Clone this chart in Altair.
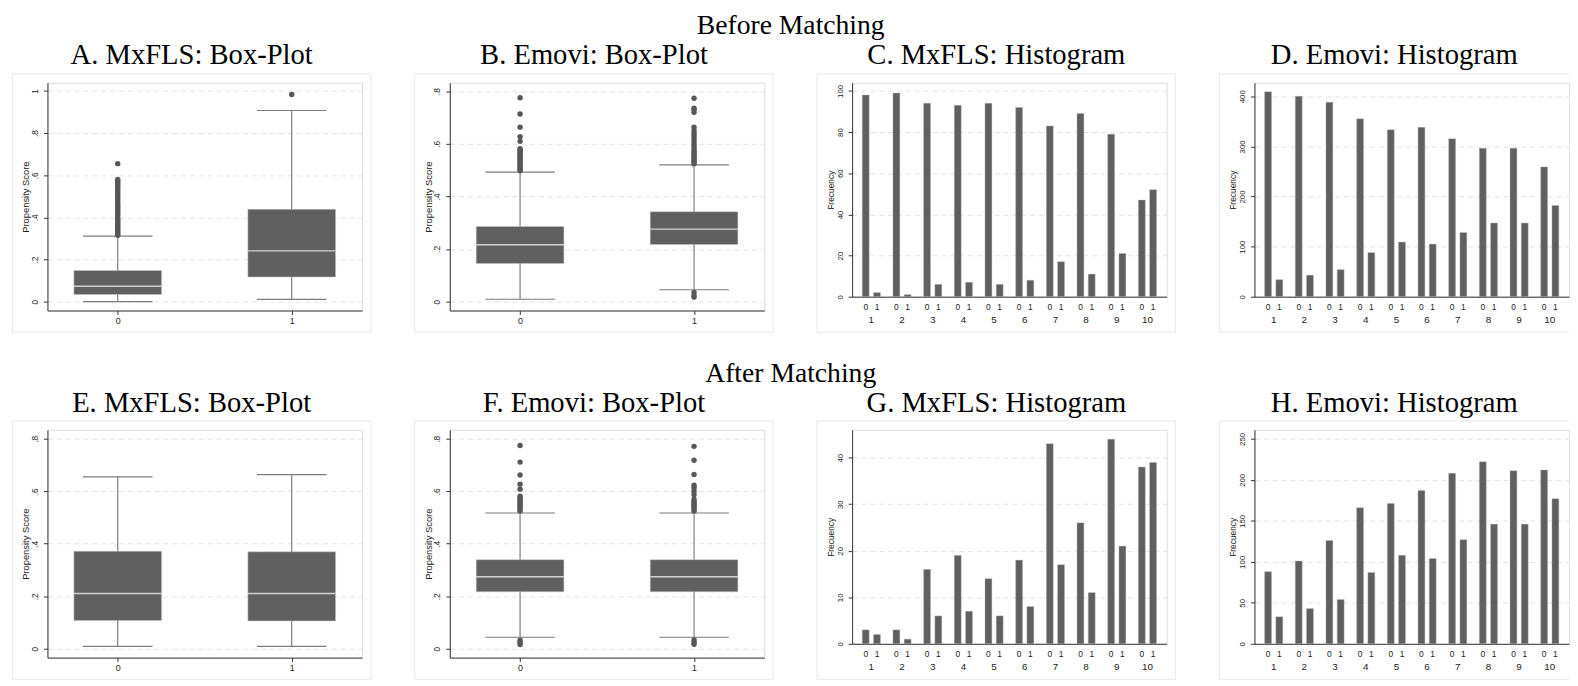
import altair as alt
import pandas as pd

# ---------------- data ----------------
groups = [0, 1]
deciles = list(range(1, 11))

# box-plot summaries: [whisker low, q1, median, q3, whisker high]
a_stats0 = [0.0, 0.034, 0.073, 0.148, 0.311]
a_stats1 = [0.011, 0.117, 0.241, 0.438, 0.907]
a_out0 = [0.315, 0.322, 0.33, 0.338, 0.345, 0.352, 0.36, 0.368, 0.375, 0.383, 0.39,
          0.398, 0.41, 0.42, 0.428, 0.436, 0.445, 0.452, 0.46, 0.47, 0.478, 0.49, 0.50,
          0.51, 0.52, 0.53, 0.54, 0.548, 0.556, 0.565, 0.572, 0.58, 0.655]
a_out1 = [0.983]

b_stats0 = [0.0087, 0.1446, 0.2156, 0.2854, 0.492]
b_stats1 = [0.0449, 0.2168, 0.2754, 0.3414, 0.5196]
b_out0 = [0.497, 0.503, 0.509, 0.515, 0.521, 0.527, 0.533, 0.539, 0.545, 0.551, 0.557,
          0.563, 0.569, 0.575, 0.581, 0.609, 0.627, 0.663, 0.713, 0.775]
b_out1 = [0.017, 0.022, 0.035, 0.524, 0.53, 0.536, 0.542, 0.548, 0.554, 0.56, 0.566,
          0.572, 0.58, 0.59, 0.60, 0.61, 0.62, 0.63, 0.64, 0.65, 0.663, 0.72, 0.73,
          0.735, 0.773]

e_stats0 = [0.0087, 0.107, 0.2106, 0.371, 0.655]
e_stats1 = [0.0087, 0.106, 0.2106, 0.369, 0.663]
e_out0 = []
e_out1 = []

f_stats0 = [0.0436, 0.2168, 0.274, 0.339, 0.517]
f_stats1 = [0.0436, 0.2168, 0.274, 0.339, 0.517]
f_out0 = [0.016, 0.024, 0.032, 0.525, 0.531, 0.537, 0.543, 0.549, 0.555, 0.561, 0.567,
          0.573, 0.581, 0.608, 0.627, 0.662, 0.711, 0.774]
f_out1 = [0.017, 0.024, 0.033, 0.525, 0.531, 0.537, 0.543, 0.549, 0.555, 0.561, 0.57,
          0.587, 0.60, 0.613, 0.623, 0.664, 0.718, 0.771]

# histogram counts by propensity-score decile
c_control = [98, 99, 94, 93, 94, 92, 83, 89, 79, 47]
c_treated = [2, 1, 6, 7, 6, 8, 17, 11, 21, 52]
d_control = [409, 400, 388, 355, 333, 338, 315, 296, 296, 259]
d_treated = [34, 43, 54, 88, 109, 105, 128, 147, 147, 182]
g_control = [3, 3, 16, 19, 14, 18, 43, 26, 44, 38]
g_treated = [2, 1, 6, 7, 6, 8, 17, 11, 21, 39]
h_control = [88, 101, 126, 166, 171, 187, 208, 222, 211, 212]
h_treated = [33, 43, 54, 87, 108, 104, 127, 146, 146, 177]

# ---------------- style ----------------
SERIF = "Liberation Serif"
SANS = "Liberation Sans"
W = 319
HB = 231
HH = 217
FR_TOP = -9
FR_BOTTOM = 253
FR_LEFT = -35.5
DARK = "#606060"
AXC = "#333333"
GRIDC = "#e3e3e3"
FRC = "#e8e8e8"


def panel_title(text):
    return alt.TitleParams(text=text, font=SERIF, fontSize=29, fontWeight="normal",
                           color="black", anchor="middle", frame="bounds", offset=3)


def one():
    return alt.Chart(pd.DataFrame({"f": [0]}))


def frame_layers(right_ext, draw_right):
    xr = W + right_ext
    lines = [
        one().mark_rule(color=FRC, strokeWidth=1).encode(
            x=alt.value(FR_LEFT), x2=alt.value(xr), y=alt.value(FR_TOP)),
        one().mark_rule(color=FRC, strokeWidth=1).encode(
            x=alt.value(FR_LEFT), x2=alt.value(xr), y=alt.value(FR_BOTTOM)),
        one().mark_rule(color=FRC, strokeWidth=1).encode(
            x=alt.value(FR_LEFT), y=alt.value(FR_TOP), y2=alt.value(FR_BOTTOM)),
    ]
    if draw_right:
        lines.append(one().mark_rule(color=FRC, strokeWidth=1).encode(
            x=alt.value(xr), y=alt.value(FR_TOP), y2=alt.value(FR_BOTTOM)))
    return lines


def box_panel(title, s0, s1, o0, o1, yticks, ydom, right_ext=9, draw_right=True):
    stats = [s0, s1]
    box_df = pd.DataFrame({
        "g": groups,
        "lo": [s[0] for s in stats],
        "q1": [s[1] for s in stats],
        "med": [s[2] for s in stats],
        "q3": [s[3] for s in stats],
        "hi": [s[4] for s in stats],
    })
    out_df = pd.DataFrame({"g": [0] * len(o0) + [1] * len(o1), "v": o0 + o1})
    xs = alt.Scale(domain=[-0.404, 1.404], nice=False, zero=False)
    ys = alt.Scale(domain=ydom, nice=False, zero=False)
    yaxis = alt.Axis(values=yticks,
                     labelExpr="datum.value == 0 ? '0' : (datum.value == 1 ? '1' : '.' + format(datum.value * 10, '.0f'))",
                     grid=True, gridDash=[5, 4], gridColor=GRIDC, gridWidth=1,
                     domainColor=AXC, tickColor=AXC, tickSize=4,
                     labelAngle=270, labelAlign="center", labelBaseline="bottom",
                     labelFont=SANS, labelFontSize=8.5, labelColor="#222", labelPadding=4,
                     titleFont=SANS, titleFontSize=9.5, titleFontWeight="normal",
                     titleColor="#222", titlePadding=0)
    xaxis = alt.Axis(values=[0, 1], format="d", grid=False, domainColor=AXC,
                     tickColor=AXC, tickSize=4, labelFont=SANS, labelFontSize=9,
                     labelColor="#222", labelPadding=2, labelAngle=0)
    YT = "Propensity Score"
    base = alt.Chart(box_df).transform_calculate(
        bx0="datum.g - 0.252", bx1="datum.g + 0.252",
        cx0="datum.g - 0.2", cx1="datum.g + 0.2")
    whisk = base.mark_rule(color="#7d7d7d", strokeWidth=1.2).encode(
        x=alt.X("g:Q", scale=xs, axis=xaxis, title=None),
        y=alt.Y("lo:Q", scale=ys, axis=yaxis, title=YT), y2="hi:Q")
    cap_lo = base.mark_rule(color="#7d7d7d", strokeWidth=1.2).encode(
        x=alt.X("cx0:Q", title=None), x2="cx1:Q", y=alt.Y("lo:Q", title=YT))
    cap_hi = base.mark_rule(color="#7d7d7d", strokeWidth=1.2).encode(
        x=alt.X("cx0:Q", title=None), x2="cx1:Q", y=alt.Y("hi:Q", title=YT))
    box = base.mark_rect(color=DARK, stroke="#c8c8c8", strokeWidth=0.5).encode(
        x=alt.X("bx0:Q", title=None), x2="bx1:Q",
        y=alt.Y("q1:Q", title=YT), y2="q3:Q")
    med = base.mark_rule(color="#d2d2d2", strokeWidth=1.5).encode(
        x=alt.X("bx0:Q", title=None), x2="bx1:Q", y=alt.Y("med:Q", title=YT))
    layers = frame_layers(right_ext, draw_right) + [whisk, cap_lo, cap_hi, box, med]
    if len(out_df):
        pts = alt.Chart(out_df).mark_circle(size=30, color="#575757", opacity=1).encode(
            x=alt.X("g:Q", title=None), y=alt.Y("v:Q", title=YT))
        layers.append(pts)
    return alt.layer(*layers).properties(width=W, height=HB, title=panel_title(title))


def hist_panel(title, ctrl, trt, yticks, ydom, right_ext=9, draw_right=True):
    df = pd.DataFrame({
        "decile": deciles + deciles,
        "treat": [0] * len(ctrl) + [1] * len(trt),
        "count": ctrl + trt,
    })
    xs = alt.Scale(paddingInner=0, paddingOuter=0.127)
    xo = alt.Scale(paddingInner=0.386, paddingOuter=0.557)
    ys = alt.Scale(domain=ydom, nice=False, zero=True)
    yaxis = alt.Axis(values=yticks, grid=True, gridDash=[5, 4], gridColor=GRIDC,
                     domainColor=AXC, tickColor=AXC, tickSize=4,
                     labelAngle=270, labelAlign="center", labelBaseline="bottom",
                     labelFont=SANS, labelFontSize=8, labelColor="#222", labelPadding=4,
                     titleFont=SANS, titleFontSize=8.5, titleFontWeight="normal",
                     titleColor="#222", titlePadding=1)
    xaxis = alt.Axis(ticks=False, tickSize=0, domainColor=AXC, labelFont=SANS,
                     labelFontSize=10, labelColor="#222", labelPadding=18, labelAngle=0)
    YT = "Frecuency"
    bars = alt.Chart(df).mark_bar(color=DARK, stroke="#b5b5b5", strokeWidth=0.4).encode(
        x=alt.X("decile:O", scale=xs, axis=xaxis, title=None),
        xOffset=alt.XOffset("treat:O", scale=xo),
        y=alt.Y("count:Q", scale=ys, axis=yaxis, title=YT))
    lab = alt.Chart(df).mark_text(font=SANS, fontSize=8.5, color="#222",
                                  baseline="middle").encode(
        x=alt.X("decile:O", title=None),
        xOffset=alt.XOffset("treat:O"),
        y=alt.value(HH + 10),
        text="treat:N")
    layers = frame_layers(right_ext, draw_right) + [bars, lab]
    return alt.layer(*layers).properties(width=W, height=HH, title=panel_title(title))


A = box_panel("A. MxFLS: Box-Plot", a_stats0, a_stats1, a_out0, a_out1,
              [0, 0.2, 0.4, 0.6, 0.8, 1], [-0.042, 1.039])
B = box_panel("B. Emovi: Box-Plot", b_stats0, b_stats1, b_out0, b_out1,
              [0, 0.2, 0.4, 0.6, 0.8], [-0.034, 0.832])
C = hist_panel("C. MxFLS: Histogram", c_control, c_treated,
               [0, 20, 40, 60, 80, 100], [0, 104])
D = hist_panel("D. Emovi: Histogram", d_control, d_treated,
               [0, 100, 200, 300, 400], [0, 427], right_ext=0, draw_right=False)
E = box_panel("E. MxFLS: Box-Plot", e_stats0, e_stats1, e_out0, e_out1,
              [0, 0.2, 0.4, 0.6, 0.8], [-0.034, 0.834])
F = box_panel("F. Emovi: Box-Plot", f_stats0, f_stats1, f_out0, f_out1,
              [0, 0.2, 0.4, 0.6, 0.8], [-0.034, 0.834])
G = hist_panel("G. MxFLS: Histogram", g_control, g_treated,
               [0, 10, 20, 30, 40], [0, 46])
H = hist_panel("H. Emovi: Histogram", h_control, h_treated,
               [0, 50, 100, 150, 200, 250], [0, 261], right_ext=0, draw_right=False)


def row_title(text):
    return alt.TitleParams(text=text, font=SERIF, fontSize=28, fontWeight="normal",
                           color="black", anchor="middle", offset=1)


row1 = alt.hconcat(A, B, C, D, spacing=42).properties(title=row_title("Before Matching"))
row2 = alt.hconcat(E, F, G, H, spacing=42).properties(title=row_title("After Matching"))

chart = alt.vconcat(row1, row2, spacing=27).properties(
    padding={"left": 3, "top": 0, "right": 0, "bottom": 0}
).configure_view(strokeWidth=0).configure(background="white")

chart.save("out.html", embed_options={"renderer": "svg", "actions": False})
